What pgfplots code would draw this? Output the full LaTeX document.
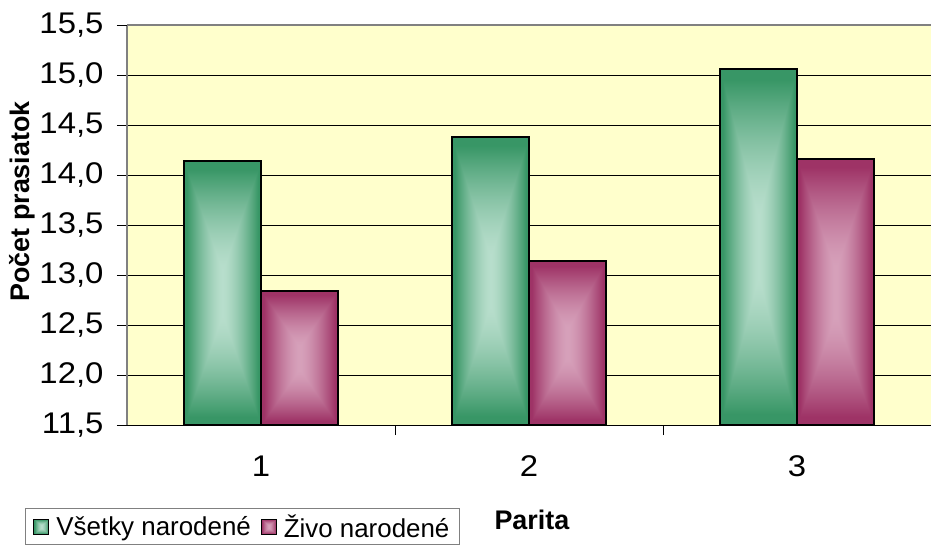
\documentclass[border=0pt]{standalone}
\usepackage{pgfplots}
\usepackage{pgfplotstable}
\pgfplotsset{compat=1.18}
\usepackage{fontspec}
\setmainfont{Liberation Sans}
\newfontfamily\tickfont[FakeStretch=1.1]{Liberation Sans}
\definecolor{plotbg}{RGB}{255,255,204}
\definecolor{axgray}{RGB}{128,128,128}
\pgfdeclarefunctionalshading{greenbar}{\pgfpoint{0bp}{0bp}}{\pgfpoint{100bp}{100bp}}{}{
50 sub abs 25 div 1 exch sub 1.2 mul 1 exch sub exch 50 sub abs 25 div 2 copy lt {exch} if pop 1.08 mul dup 1 gt {pop 1} if dup 0 lt {pop 0} if 1.5 exp
dup -0.50 mul 0.72 add exch dup -0.28 mul 0.87 add exch -0.40 mul 0.80 add}
\pgfdeclarefunctionalshading{purplebar}{\pgfpoint{0bp}{0bp}}{\pgfpoint{100bp}{100bp}}{}{
50 sub abs 25 div 1 exch sub 1.2 mul 1 exch sub exch 50 sub abs 25 div 2 copy lt {exch} if pop 1.08 mul dup 1 gt {pop 1} if dup 0 lt {pop 0} if 1.5 exp
dup -0.22 mul 0.84 add exch dup -0.43 mul 0.63 add exch -0.33 mul 0.73 add}
\pgfplotsset{
  sq legend/.style={legend image code/.code={\draw[##1, line width=1bp] (0bp,-7.5bp) rectangle (15bp,7.5bp);}},
  gbar/.style={ybar, bar width=77bp, bar shift=-38.5bp, shade, shading=greenbar, draw=black, line width=1.2bp, sq legend},
  pbar/.style={ybar, bar width=77bp, bar shift=38.5bp, shade, shading=purplebar, draw=black, line width=1.2bp, sq legend},
  every tick label/.append style={font=\tickfont\fontsize{30}{36}\selectfont},
}
\begin{document}
\begin{tikzpicture}
\useasboundingbox (0,0) rectangle (931bp,549bp);
\begin{axis}[
  at={(127bp,124bp)}, anchor=south west,
  scale only axis, width=804bp, height=400bp,
  axis background/.style={fill=plotbg},
  xmin=0.5, xmax=3.5, ymin=0, ymax=4,
  y filter/.code={\pgfmathparse{\pgfmathresult-11.5}},
  axis x line*=bottom, axis y line*=left,
  x axis line style={black, line width=1bp},
  y axis line style={axgray, line width=1.5bp},
  tick style={black, line width=0.8bp},
  major tick length=10bp, tick align=outside,
  xtick={1.5,2.5}, xticklabels={,,},
  extra x ticks={1,2,3}, extra x tick labels={1,2,3},
  extra x tick style={tick style={draw=none}},
  xticklabel style={yshift=-17bp, font=\tickfont\fontsize{30}{36}\selectfont},
  ytick={0,0.5,1,1.5,2,2.5,3,3.5},
  yticklabels={11{,}5,12{,}0,12{,}5,13{,}0,13{,}5,14{,}0,14{,}5,15{,}0},
  extra y ticks={4}, extra y tick labels={15{,}5},
  extra y tick style={grid style={axgray, line width=1.5bp}},
  yticklabel style={xshift=-10bp, font=\tickfont\fontsize{30}{36}\selectfont},
  ymajorgrids, grid style={black, line width=0.8bp},
  ylabel={\textbf{Počet prasiatok}},
  ylabel style={at={(axis description cs:-0.1306,0.559)}, anchor=center, font=\fontsize{27}{32}\selectfont},
  xlabel={\textbf{Parita}},
  xlabel style={at={(axis description cs:0.5037,-0.2375)}, anchor=center, font=\fontsize{27}{32}\selectfont},
  legend style={at={(axis description cs:-0.1269,-0.2075)}, anchor=north west,
    legend columns=2, draw=axgray, line width=1bp, fill=white,
    font=\fontsize{26}{31}\selectfont, inner xsep=8bp, inner ysep=4bp,
    /tikz/every odd column/.append style={column sep=5bp},
    /tikz/every even column/.append style={column sep=8bp}},
]
\addplot[gbar] coordinates {(1,14.14)};
\addlegendentry{Všetky narodené}
\addplot[pbar] coordinates {(1,12.84)};
\addlegendentry{Živo narodené}
\addplot[gbar, forget plot] coordinates {(2,14.38)};
\addplot[pbar, forget plot] coordinates {(2,13.14)};
\addplot[gbar, forget plot] coordinates {(3,15.06)};
\addplot[pbar, forget plot] coordinates {(3,14.16)};
\end{axis}
\end{tikzpicture}
\end{document}
